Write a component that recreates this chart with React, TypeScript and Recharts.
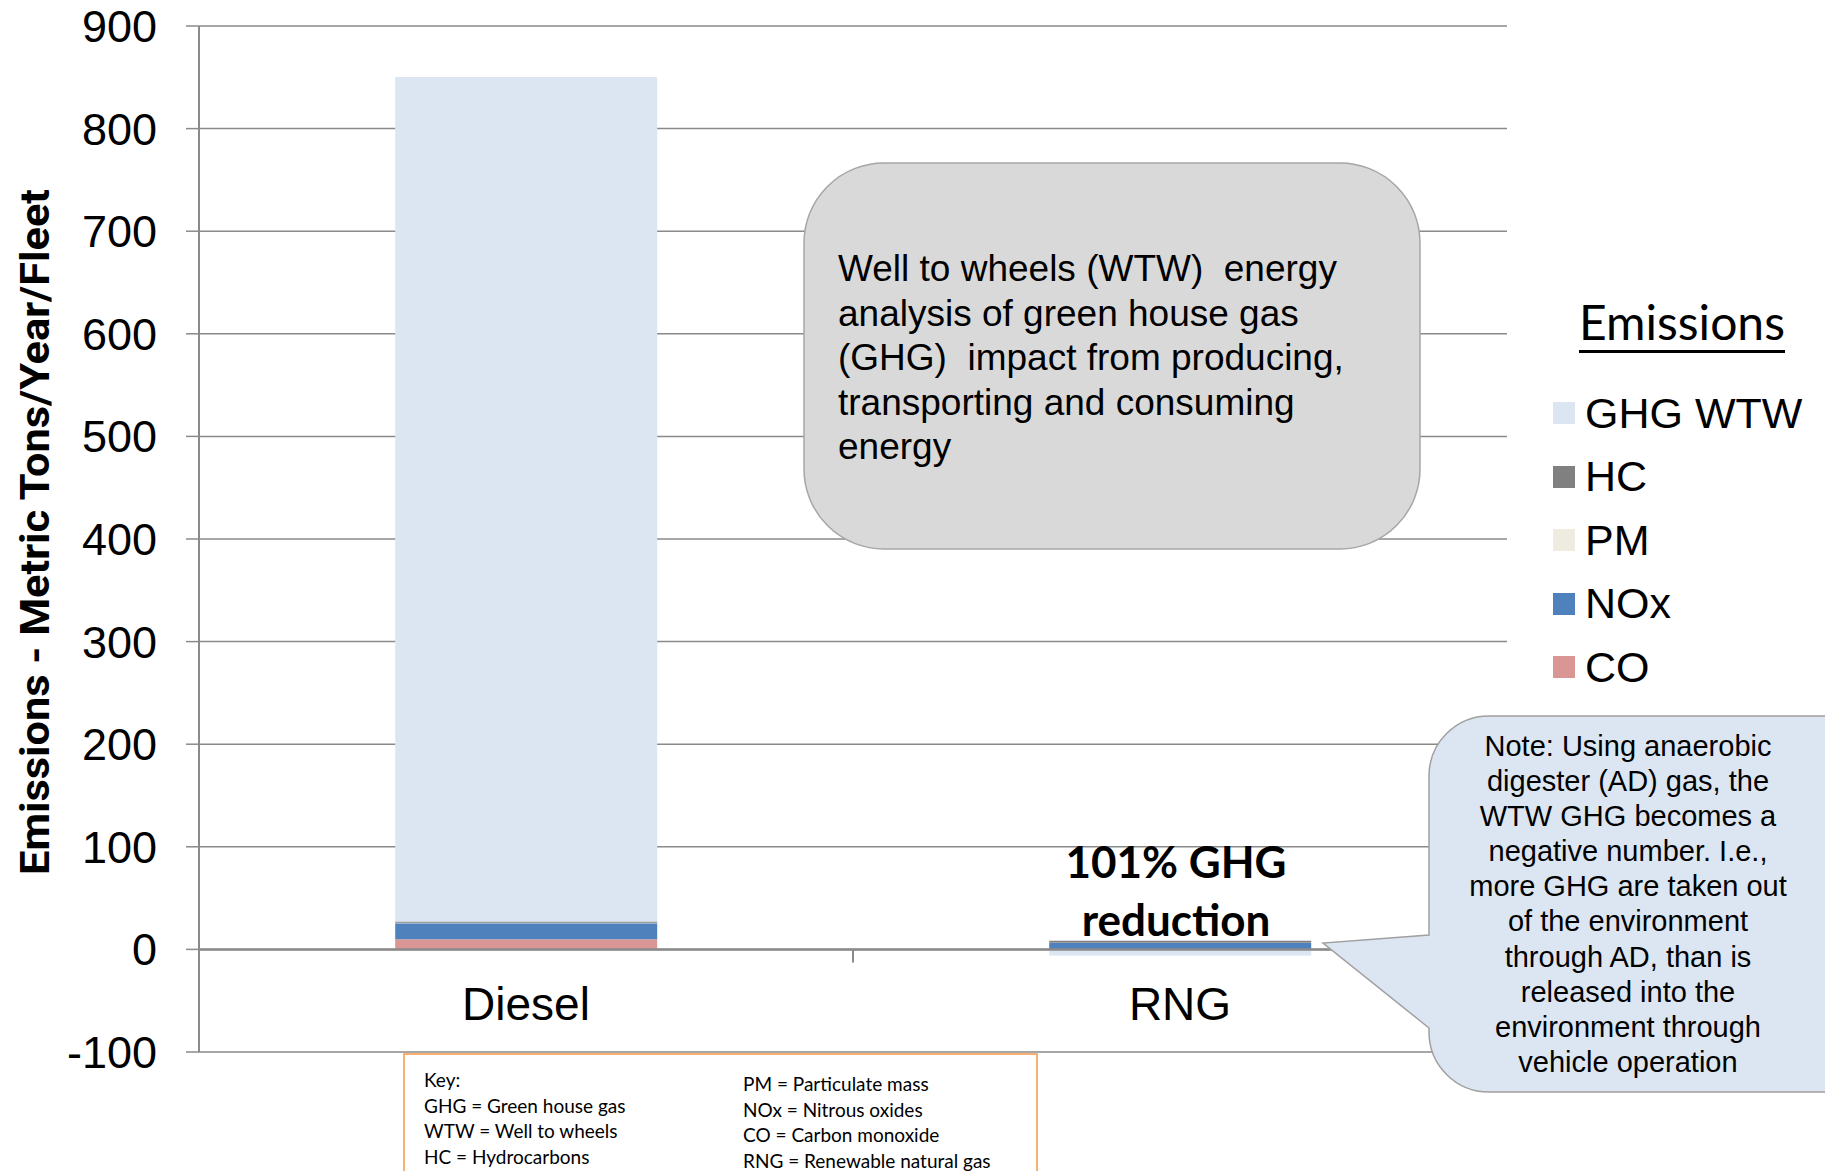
import { Bar, BarChart, CartesianGrid, Label, ReferenceLine, XAxis, YAxis } from 'recharts'

// values (metric tons / year / fleet)
const categories = ['Diesel', 'RNG']
const co = [10, 0.3]
const nox = [15.5, 6]
const pm = [0.5, 0.2]
const hc = [1.3, 2]
const ghgWtw = [823, -6]

const yTicks = [-100, 0, 100, 200, 300, 400, 500, 600, 700, 800, 900]

const series = [
  { key: 'co', name: 'CO', color: '#d99694', values: co },
  { key: 'nox', name: 'NOx', color: '#4f81bd', values: nox },
  { key: 'pm', name: 'PM', color: '#eeece1', values: pm },
  { key: 'hc', name: 'HC', color: '#808080', values: hc },
  { key: 'ghg', name: 'GHG WTW', color: '#dce6f2', values: ghgWtw },
]

const data = categories.map((name, i) => {
  const row: Record<string, string | number> = { name }
  series.forEach((s) => (row[s.key] = s.values[i]))
  return row
})

const W = 1825
const H = 1171
const MARGIN = { top: 26, right: 318, bottom: 0, left: 0 }
const YAXIS_W = 199
const XAXIS_H = 119
const Y_MIN = -100
const Y_MAX = 900
const PLOT_W = W - MARGIN.left - MARGIN.right - YAXIS_W
const PLOT_H = H - MARGIN.top - MARGIN.bottom - XAXIS_H
const ZERO_Y = MARGIN.top + (PLOT_H * Y_MAX) / (Y_MAX - Y_MIN)
const ARIAL = '"Liberation Sans", Arial, sans-serif'
const CALIBRI = 'Lato, "Open Sans", sans-serif'
const GRID = '#8a8a8a'

function CategoryTick(props: any) {
  const { x, payload, index } = props
  const half = PLOT_W / categories.length / 2
  return (
    <g>
      <text x={x} y={ZERO_Y + 54} dy="0.355em" textAnchor="middle" fontSize={46} fontFamily={ARIAL} fill="#000">
        {payload.value}
      </text>
      {index < categories.length - 1 && (
        <line x1={x + half} x2={x + half} y1={ZERO_Y} y2={ZERO_Y + 13} stroke={GRID} strokeWidth={2} />
      )}
    </g>
  )
}

function YTitle(props: any) {
  const cy = props.viewBox.y + props.viewBox.height / 2 - 7
  return (
    <text
      x={35}
      y={cy}
      transform={`rotate(-90 35 ${cy})`}
      textAnchor="middle"
      dominantBaseline="central"
      fontSize={40}
      fontWeight="bold"
      fontFamily='"Liberation Sans Narrow", "Arial Narrow", Roboto, sans-serif'
      textLength={686}
      lengthAdjust="spacingAndGlyphs"
      fill="#000"
    >
      Emissions - Metric Tons/Year/Fleet
    </text>
  )
}

export default function App() {
  return (
    <div style={{ position: 'absolute', left: 0, top: 0, width: W, height: H, background: '#fff', overflow: 'hidden' }}>
      <style>{'body{margin:0}'}</style>
      <BarChart width={W} height={H} data={data} margin={MARGIN} stackOffset="sign" barCategoryGap="30%">
        <CartesianGrid vertical={false} stroke={GRID} strokeWidth={1.5} />
        <XAxis
          dataKey="name"
          height={XAXIS_H}
          axisLine={false}
          tickLine={false}
          tick={<CategoryTick />}
          interval={0}
        />
        <YAxis
          width={YAXIS_W}
          domain={[Y_MIN, Y_MAX]}
          ticks={yTicks}
          interval={0}
          allowDataOverflow
          axisLine={{ stroke: GRID, strokeWidth: 2 }}
          tickLine={{ stroke: GRID, strokeWidth: 1.5 }}
          tickSize={13}
          tickMargin={29}
          tick={{ fontSize: 45, fill: '#000', fontFamily: ARIAL }}
        >
          <Label content={<YTitle />} />
        </YAxis>
        {series.map((s) => (
          <Bar key={s.key} dataKey={s.key} name={s.name} stackId="a" fill={s.color} isAnimationActive={false} />
        ))}
        <ReferenceLine y={0} stroke={GRID} strokeWidth={2.5} />
      </BarChart>

      {/* callout shapes */}
      <svg width={W} height={H} style={{ position: 'absolute', left: 0, top: 0 }}>
        <rect x={804} y={163} width={616} height={386} rx={80} ry={80} fill="#d9d9d9" stroke="#a6a6a6" strokeWidth={1.5} />
        <path
          d="M1489,716 H1840 V1092 H1489 A60,60 0 0 1 1429,1032 V1028 L1323,943 L1429,935 V776 A60,60 0 0 1 1489,716 Z"
          fill="#dce6f2"
          stroke="#a0a0a0"
          strokeWidth={1.5}
        />
        <rect x={404} y={1054} width={633} height={140} fill="#fff" stroke="#f79646" strokeWidth={1.5} />
      </svg>

      <div
        style={{
          position: 'absolute',
          left: 838,
          top: 247,
          fontFamily: ARIAL,
          fontSize: 37,
          lineHeight: '44.6px',
          whiteSpace: 'pre',
          color: '#000',
        }}
      >
        {'Well to wheels (WTW)  energy\nanalysis of green house gas\n(GHG)  impact from producing,\ntransporting and consuming\nenergy'}
      </div>

      <div
        style={{
          position: 'absolute',
          left: 1428,
          width: 400,
          top: 729,
          textAlign: 'center',
          fontFamily: ARIAL,
          fontSize: 29,
          lineHeight: '35.1px',
          whiteSpace: 'pre',
          color: '#000',
        }}
      >
        {
          'Note: Using anaerobic\ndigester (AD) gas, the\nWTW GHG becomes a\nnegative number. I.e.,\nmore GHG are taken out\nof the environment\nthrough AD, than is\nreleased into the\nenvironment through\nvehicle operation'
        }
      </div>

      <div
        style={{
          position: 'absolute',
          left: 1026,
          width: 300,
          top: 832,
          textAlign: 'center',
          fontFamily: CALIBRI,
          fontWeight: 'bold',
          fontSize: 44,
          lineHeight: '58px',
          whiteSpace: 'pre',
          color: '#000',
        }}
      >
        {'101% GHG\nreduction'}
      </div>

      {/* legend */}
      <div style={{ position: 'absolute', left: 1579, top: 294, fontFamily: CALIBRI, fontSize: 48, lineHeight: '56px', color: '#000' }}>
        <span style={{ borderBottom: '3px solid #000', paddingBottom: 0 }}>Emissions</span>
      </div>
      {[...series].reverse().map((s, i) => (
        <div
          key={s.key}
          style={{
            position: 'absolute',
            left: 1553,
            top: 413 + i * 63.5 - 25,
            height: 50,
            display: 'flex',
            alignItems: 'center',
            fontFamily: ARIAL,
            fontSize: 43,
            color: '#000',
          }}
        >
          <span style={{ width: 22, height: 22, background: s.color, marginRight: 10, display: 'inline-block' }} />
          {s.name}
        </div>
      ))}

      {/* key box */}
      <div style={{ position: 'absolute', left: 424, top: 1067, fontFamily: CALIBRI, fontSize: 19, lineHeight: '25.5px', whiteSpace: 'pre' }}>
        {'Key:\nGHG = Green house gas\nWTW = Well to wheels\nHC = Hydrocarbons'}
      </div>
      <div style={{ position: 'absolute', left: 743, top: 1071, fontFamily: CALIBRI, fontSize: 19, lineHeight: '25.5px', whiteSpace: 'pre' }}>
        {'PM = Particulate mass\nNOx = Nitrous oxides\nCO = Carbon monoxide\nRNG = Renewable natural gas'}
      </div>
    </div>
  )
}
